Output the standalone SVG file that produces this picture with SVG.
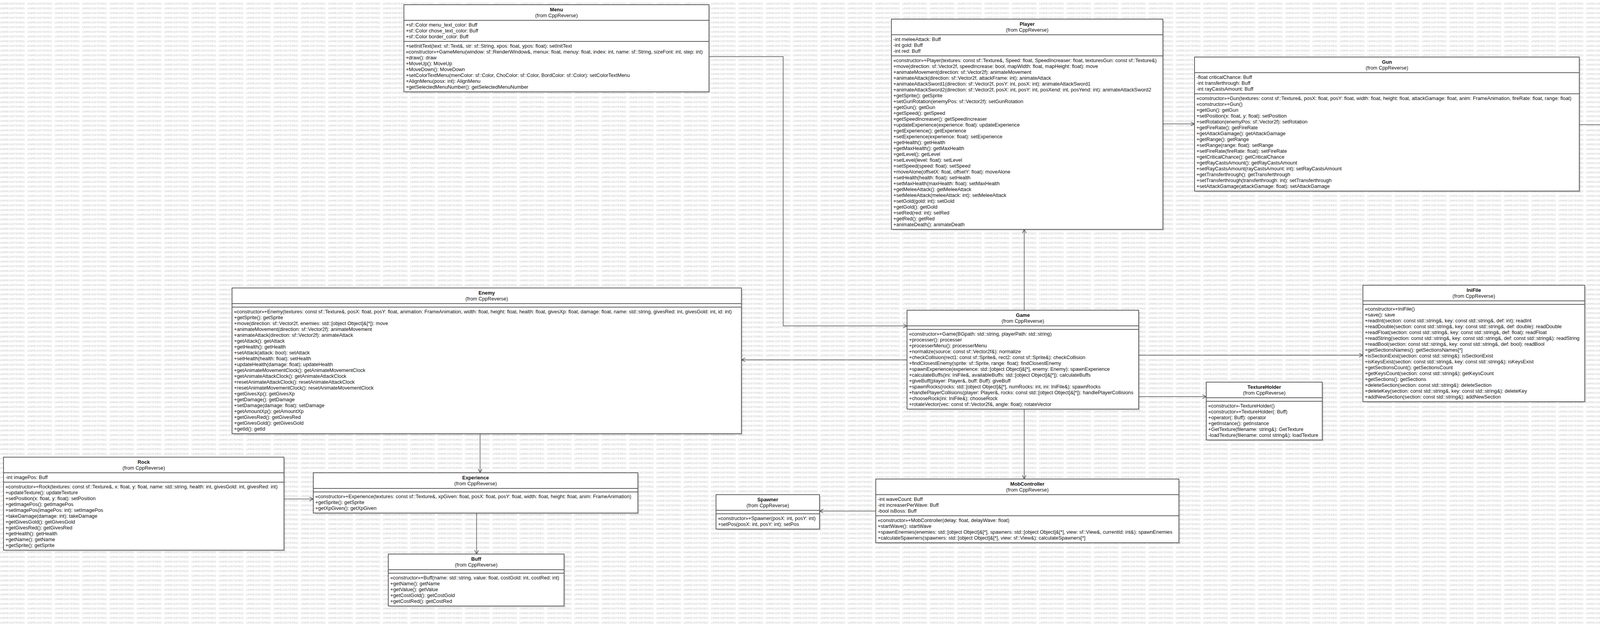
<svg xmlns="http://www.w3.org/2000/svg" width="5394" height="1597" viewBox="0 0 5394 1597">
<style>
.bg{fill:#fff}
.wm{font-family:"Liberation Sans",Arial,sans-serif;font-size:8px;fill:#c6c6c6}
.sh{fill:#000;opacity:.1}
.box{fill:#fff;stroke:#5f5f5f;stroke-width:2}
.sep{stroke:#5f5f5f;stroke-width:2}
.t{font-family:"Liberation Sans",Arial,sans-serif;font-size:12.8px;fill:#111}
.n{font-weight:bold;text-anchor:middle}
.f{text-anchor:middle}
.conn{fill:none;stroke:#555;stroke-width:1.5}
</style>
<defs>
<pattern id="wmp" width="70" height="12" patternUnits="userSpaceOnUse"><text class="wm" x="0" y="11.5">UNREGISTERED</text></pattern>
<marker id="arr" markerUnits="userSpaceOnUse" markerWidth="12" markerHeight="12" refX="10" refY="5" orient="auto"><path d="M0,0 L10,5 L0,10" fill="none" stroke="#555" stroke-width="1.5"/></marker>
</defs>
<rect class="bg" width="5394" height="1597"/>
<rect width="5394" height="1597" fill="url(#wmp)"/>

<g id="connectors">
<path class="conn" d="M1815,145 H2005 V834 H2322" marker-end="url(#arr)"/>
<path class="conn" d="M2622,794 V587" marker-end="url(#arr)"/>
<path class="conn" d="M2977,317 H3058" marker-end="url(#arr)"/>
<path class="conn" d="M4043,319 H4178" marker-end="url(#arr)"/>
<path class="conn" d="M2915,909 H3489" marker-end="url(#arr)"/>
<path class="conn" d="M2915,1015 H3088" marker-end="url(#arr)"/>
<path class="conn" d="M2322,921 H1898" marker-end="url(#arr)"/>
<path class="conn" d="M2622,1047 V1226" marker-end="url(#arr)"/>
<path class="conn" d="M2242,1308 H2098" marker-end="url(#arr)"/>
<path class="conn" d="M1229,1110 V1210" marker-end="url(#arr)"/>
<path class="conn" d="M727,1277 H802" marker-end="url(#arr)"/>
<path class="conn" d="M1220,1313 V1418" marker-end="url(#arr)"/>
</g>

<g id="Menu">
<rect class="sh" x="1038" y="16" width="781" height="223"/>
<rect class="box" x="1034" y="12" width="781" height="223"/>
<line class="sep" x1="1034" y1="52" x2="1815" y2="52"/>
<line class="sep" x1="1034" y1="106" x2="1815" y2="106"/>
<text class="t n" x="1424.5" y="29">Menu</text>
<text class="t f" x="1424.5" y="44">(from CppReverse)</text>
<text class="t">
<tspan x="1039" y="68">+sf::Color menu_text_color: Buff</tspan>
<tspan x="1039" y="83">+sf::Color chose_text_color: Buff</tspan>
<tspan x="1039" y="98">+sf::Color border_color: Buff</tspan>
<tspan x="1039" y="122">+setInitText(text: sf::Text&amp;, str: sf::String, xpos: float, ypos: float): setInitText</tspan>
<tspan x="1039" y="137">«constructor»+GameMenu(window: sf::RenderWindow&amp;, menux: float, menuy: float, index: int, name: sf::String, sizeFont: int, step: int)</tspan>
<tspan x="1039" y="152">+draw(): draw</tspan>
<tspan x="1039" y="167">+MoveUp(): MoveUp</tspan>
<tspan x="1039" y="182">+MoveDown(): MoveDown</tspan>
<tspan x="1039" y="197">+setColorTextMenu(menColor: sf::Color, ChoColor: sf::Color, BordColor: sf::Color): setColorTextMenu</tspan>
<tspan x="1039" y="212">+AlignMenu(posx: int): AlignMenu</tspan>
<tspan x="1039" y="227">+getSelectedMenuNumber(): getSelectedMenuNumber</tspan>
</text>
</g>

<g id="Player">
<rect class="sh" x="2286" y="53" width="695" height="538"/>
<rect class="box" x="2282" y="49" width="695" height="538"/>
<line class="sep" x1="2282" y1="89" x2="2977" y2="89"/>
<line class="sep" x1="2282" y1="143" x2="2977" y2="143"/>
<text class="t n" x="2629.5" y="66">Player</text>
<text class="t f" x="2629.5" y="81">(from CppReverse)</text>
<text class="t">
<tspan x="2287" y="105">-int meleeAttack: Buff</tspan>
<tspan x="2287" y="120">-int gold: Buff</tspan>
<tspan x="2287" y="135">-int red: Buff</tspan>
<tspan x="2287" y="159">«constructor»+Player(textures: const sf::Texture&amp;, Speed: float, SpeedIncreaser: float, texturesGun: const sf::Texture&amp;)</tspan>
<tspan x="2287" y="174">+move(direction: sf::Vector2f, speedIncrease: bool, mapWidth: float, mapHeight: float): move</tspan>
<tspan x="2287" y="189">+animateMovement(direction: sf::Vector2f): animateMovement</tspan>
<tspan x="2287" y="204">+animateAttack(direction: sf::Vector2f, attackFrame: int): animateAttack</tspan>
<tspan x="2287" y="219">+animateAttackSword1(direction: sf::Vector2f, posY: int, posX: int): animateAttackSword1</tspan>
<tspan x="2287" y="234">+animateAttackSword2(direction: sf::Vector2f, posX: int, posY: int, posXend: int, posYend: int): animateAttackSword2</tspan>
<tspan x="2287" y="249">+getSprite(): getSprite</tspan>
<tspan x="2287" y="264">+setGunRotation(enemyPos: sf::Vector2f): setGunRotation</tspan>
<tspan x="2287" y="279">+getGun(): getGun</tspan>
<tspan x="2287" y="294">+getSpeed(): getSpeed</tspan>
<tspan x="2287" y="309">+getSpeedIncreaser(): getSpeedIncreaser</tspan>
<tspan x="2287" y="324">+updateExperience(experience: float): updateExperience</tspan>
<tspan x="2287" y="339">+getExperience(): getExperience</tspan>
<tspan x="2287" y="354">+setExperience(experience: float): setExperience</tspan>
<tspan x="2287" y="369">+getHealth(): getHealth</tspan>
<tspan x="2287" y="384">+getMaxHealth(): getMaxHealth</tspan>
<tspan x="2287" y="399">+getLevel(): getLevel</tspan>
<tspan x="2287" y="414">+setLevel(level: float): setLevel</tspan>
<tspan x="2287" y="429">+setSpeed(speed: float): setSpeed</tspan>
<tspan x="2287" y="444">+moveAlone(offsetX: float, offsetY: float): moveAlone</tspan>
<tspan x="2287" y="459">+setHealth(health: float): setHealth</tspan>
<tspan x="2287" y="474">+setMaxHealth(maxHealth: float): setMaxHealth</tspan>
<tspan x="2287" y="489">+getMeleeAttack(): getMeleeAttack</tspan>
<tspan x="2287" y="504">+setMeleeAttack(meleeAttack: int): setMeleeAttack</tspan>
<tspan x="2287" y="519">+setGold(gold: int): setGold</tspan>
<tspan x="2287" y="534">+getGold(): getGold</tspan>
<tspan x="2287" y="549">+setRed(red: int): setRed</tspan>
<tspan x="2287" y="564">+getRed(): getRed</tspan>
<tspan x="2287" y="579">+animateDeath(): animateDeath</tspan>
</text>
</g>

<g id="Gun">
<rect class="sh" x="3062" y="150" width="985" height="343"/>
<rect class="box" x="3058" y="146" width="985" height="343"/>
<line class="sep" x1="3058" y1="186" x2="4043" y2="186"/>
<line class="sep" x1="3058" y1="240" x2="4043" y2="240"/>
<text class="t n" x="3550.5" y="163">Gun</text>
<text class="t f" x="3550.5" y="178">(from CppReverse)</text>
<text class="t">
<tspan x="3063" y="202">-float criticalChance: Buff</tspan>
<tspan x="3063" y="217">-int transferthrough: Buff</tspan>
<tspan x="3063" y="232">-int rayCastsAmount: Buff</tspan>
<tspan x="3063" y="256">«constructor»+Gun(textures: const sf::Texture&amp;, posX: float, posY: float, width: float, height: float, attackGamage: float, anim: FrameAnimation, fireRate: float, range: float)</tspan>
<tspan x="3063" y="271">«constructor»+Gun()</tspan>
<tspan x="3063" y="286">+getGun(): getGun</tspan>
<tspan x="3063" y="301">+setPosition(x: float, y: float): setPosition</tspan>
<tspan x="3063" y="316">+setRotation(enemyPos: sf::Vector2f): setRotation</tspan>
<tspan x="3063" y="331">+getFireRate(): getFireRate</tspan>
<tspan x="3063" y="346">+getAttackGamage(): getAttackGamage</tspan>
<tspan x="3063" y="361">+getRange(): getRange</tspan>
<tspan x="3063" y="376">+setRange(range: float): setRange</tspan>
<tspan x="3063" y="391">+setFireRate(fireRate: float): setFireRate</tspan>
<tspan x="3063" y="406">+getCriticalChance(): getCriticalChance</tspan>
<tspan x="3063" y="421">+getRayCastsAmount(): getRayCastsAmount</tspan>
<tspan x="3063" y="436">+setRayCastsAmount(rayCastsAmount: int): setRayCastsAmount</tspan>
<tspan x="3063" y="451">+getTransferthrough(): getTransferthrough</tspan>
<tspan x="3063" y="466">+setTransferthrough(transferthrough: int): setTransferthrough</tspan>
<tspan x="3063" y="481">+setAttackGamage(attackGamage: float): setAttackGamage</tspan>
</text>
</g>

<g id="Bullet">
<rect class="sh" x="4182" y="222" width="1163" height="208"/>
<rect class="box" x="4178" y="218" width="1163" height="208"/>
<line class="sep" x1="4178" y1="258" x2="5341" y2="258"/>
<line class="sep" x1="4178" y1="282" x2="5341" y2="282"/>
<text class="t n" x="4759.5" y="235">Bullet</text>
<text class="t f" x="4759.5" y="250">(from CppReverse)</text>
<text class="t">
<tspan x="4183" y="274">-int lastTransferredId: Buff</tspan>
<tspan x="4183" y="298">«constructor»+Bullet(textures: const sf::Texture&amp;, posX: float, posY: float, width: float, height: float, attackGamage: float, anim: FrameAnimation, direction: sf::Vector2f, color: sf::Color, transferThrough: int)</tspan>
<tspan x="4183" y="313">«constructor»+Bullet()</tspan>
<tspan x="4183" y="328">+animateMovement(): animateMovement</tspan>
<tspan x="4183" y="343">+getSprite(): getSprite</tspan>
<tspan x="4183" y="358">+move(seconds: float): move</tspan>
<tspan x="4183" y="373">+getAttackGamage(): getAttackGamage</tspan>
<tspan x="4183" y="388">+getClock(): getClock</tspan>
<tspan x="4183" y="403">+getTransferThrough(): getTransferThrough</tspan>
<tspan x="4183" y="418">+setTransferThrough(id: int): setTransferThrough</tspan>
</text>
</g>

<g id="Enemy">
<rect class="sh" x="598" y="741" width="1304" height="373"/>
<rect class="box" x="594" y="737" width="1304" height="373"/>
<line class="sep" x1="594" y1="777" x2="1898" y2="777"/>
<line class="sep" x1="594" y1="786" x2="1898" y2="786"/>
<text class="t n" x="1246" y="754">Enemy</text>
<text class="t f" x="1246" y="769">(from CppReverse)</text>
<text class="t">
<tspan x="599" y="802">«constructor»+Enemy(textures: const sf::Texture&amp;, posX: float, posY: float, animation: FrameAnimation, width: float, height: float, health: float, givesXp: float, damage: float, name: std::string, givesRed: int, givesGold: int, id: int)</tspan>
<tspan x="599" y="817">+getSprite(): getSprite</tspan>
<tspan x="599" y="832">+move(direction: sf::Vector2f, enemies: std::[object Object]&amp;[*]): move</tspan>
<tspan x="599" y="847">+animateMovement(direction: sf::Vector2f): animateMovement</tspan>
<tspan x="599" y="862">+animateAttack(direction: sf::Vector2f): animateAttack</tspan>
<tspan x="599" y="877">+getAttack(): getAttack</tspan>
<tspan x="599" y="892">+getHealth(): getHealth</tspan>
<tspan x="599" y="907">+setAttack(attack: bool): setAttack</tspan>
<tspan x="599" y="922">+setHealth(health: float): setHealth</tspan>
<tspan x="599" y="937">+updateHealth(damage: float): updateHealth</tspan>
<tspan x="599" y="952">+getAnimateMovementClock(): getAnimateMovementClock</tspan>
<tspan x="599" y="967">+getAnimateAttackClock(): getAnimateAttackClock</tspan>
<tspan x="599" y="982">+resetAnimateAttackClock(): resetAnimateAttackClock</tspan>
<tspan x="599" y="997">+resetAnimateMovementClock(): resetAnimateMovementClock</tspan>
<tspan x="599" y="1012">+getGivesXp(): getGivesXp</tspan>
<tspan x="599" y="1027">+getDamage(): getDamage</tspan>
<tspan x="599" y="1042">+setDamage(damage: float): setDamage</tspan>
<tspan x="599" y="1057">+getAmountXp(): getAmountXp</tspan>
<tspan x="599" y="1072">+getGivesRed(): getGivesRed</tspan>
<tspan x="599" y="1087">+getGivesGold(): getGivesGold</tspan>
<tspan x="599" y="1102">+getId(): getId</tspan>
</text>
</g>

<g id="Game">
<rect class="sh" x="2326" y="798" width="593" height="253"/>
<rect class="box" x="2322" y="794" width="593" height="253"/>
<line class="sep" x1="2322" y1="834" x2="2915" y2="834"/>
<line class="sep" x1="2322" y1="843" x2="2915" y2="843"/>
<text class="t n" x="2618.5" y="811">Game</text>
<text class="t f" x="2618.5" y="826">(from CppReverse)</text>
<text class="t">
<tspan x="2327" y="859">«constructor»+Game(BGpath: std::string, playerPath: std::string)</tspan>
<tspan x="2327" y="874">+processer(): processer</tspan>
<tspan x="2327" y="889">+processerMenu(): processerMenu</tspan>
<tspan x="2327" y="904">+normalize(source: const sf::Vector2f&amp;): normalize</tspan>
<tspan x="2327" y="919">+checkCollision(rect1: const sf::Sprite&amp;, rect2: const sf::Sprite&amp;): checkCollision</tspan>
<tspan x="2327" y="934">+findClosestEnemy(sprite: sf::Sprite, range: float): findClosestEnemy</tspan>
<tspan x="2327" y="949">+spawnExperience(experience: std::[object Object]&amp;[*], enemy: Enemy): spawnExperience</tspan>
<tspan x="2327" y="964">+calculateBuffs(ini: IniFile&amp;, availableBuffs: std::[object Object]&amp;[*]): calculateBuffs</tspan>
<tspan x="2327" y="979">+giveBuff(player: Player&amp;, buff: Buff): giveBuff</tspan>
<tspan x="2327" y="994">+spawnRocks(rocks: std::[object Object]&amp;[*], numRocks: int, ini: IniFile&amp;): spawnRocks</tspan>
<tspan x="2327" y="1009">+handlePlayerCollisions(player: Player&amp;, rocks: const std::[object Object]&amp;[*]): handlePlayerCollisions</tspan>
<tspan x="2327" y="1024">+chooseRock(ini: IniFile&amp;): chooseRock</tspan>
<tspan x="2327" y="1039">+rotateVector(vec: const sf::Vector2f&amp;, angle: float): rotateVector</tspan>
</text>
</g>

<g id="IniFile">
<rect class="sh" x="3493" y="734" width="568" height="298"/>
<rect class="box" x="3489" y="730" width="568" height="298"/>
<line class="sep" x1="3489" y1="770" x2="4057" y2="770"/>
<line class="sep" x1="3489" y1="779" x2="4057" y2="779"/>
<text class="t n" x="3773" y="747">IniFile</text>
<text class="t f" x="3773" y="762">(from CppReverse)</text>
<text class="t">
<tspan x="3494" y="795">«constructor»+IniFile()</tspan>
<tspan x="3494" y="810">+save(): save</tspan>
<tspan x="3494" y="825">+readInt(section: const std::string&amp;, key: const std::string&amp;, def: int): readInt</tspan>
<tspan x="3494" y="840">+readDouble(section: const std::string&amp;, key: const std::string&amp;, def: double): readDouble</tspan>
<tspan x="3494" y="855">+readFloat(section: const std::string&amp;, key: const std::string&amp;, def: float): readFloat</tspan>
<tspan x="3494" y="870">+readString(section: const std::string&amp;, key: const std::string&amp;, def: const std::string&amp;): readString</tspan>
<tspan x="3494" y="885">+readBool(section: const std::string&amp;, key: const std::string&amp;, def: bool): readBool</tspan>
<tspan x="3494" y="900">+getSectionsNames(): getSectionsNames[*]</tspan>
<tspan x="3494" y="915">+isSectionExist(section: const std::string&amp;): isSectionExist</tspan>
<tspan x="3494" y="930">+isKeysExist(section: const std::string&amp;, key: const std::string&amp;): isKeysExist</tspan>
<tspan x="3494" y="945">+getSectionsCount(): getSectionsCount</tspan>
<tspan x="3494" y="960">+getKeysCount(section: const std::string&amp;): getKeysCount</tspan>
<tspan x="3494" y="975">+getSections(): getSections</tspan>
<tspan x="3494" y="990">+deleteSection(section: const std::string&amp;): deleteSection</tspan>
<tspan x="3494" y="1005">+deleteKey(section: const std::string&amp;, key: const std::string&amp;): deleteKey</tspan>
<tspan x="3494" y="1020">+addNewSection(section: const std::string&amp;): addNewSection</tspan>
</text>
</g>

<g id="TextureHolder">
<rect class="sh" x="3092" y="982" width="297" height="148"/>
<rect class="box" x="3088" y="978" width="297" height="148"/>
<line class="sep" x1="3088" y1="1018" x2="3385" y2="1018"/>
<line class="sep" x1="3088" y1="1027" x2="3385" y2="1027"/>
<text class="t n" x="3236.5" y="995">TextureHolder</text>
<text class="t f" x="3236.5" y="1010">(from CppReverse)</text>
<text class="t">
<tspan x="3093" y="1043">«constructor»-TextureHolder()</tspan>
<tspan x="3093" y="1058">«constructor»+TextureHolder(: Buff)</tspan>
<tspan x="3093" y="1073">+operator(: Buff): operator</tspan>
<tspan x="3093" y="1088">+getInstance(): getInstance</tspan>
<tspan x="3093" y="1103">+GetTexture(filename: string&amp;): GetTexture</tspan>
<tspan x="3093" y="1118">-loadTexture(filename: const string&amp;): loadTexture</tspan>
</text>
</g>

<g id="Rock">
<rect class="sh" x="13" y="1174" width="718" height="238"/>
<rect class="box" x="9" y="1170" width="718" height="238"/>
<line class="sep" x1="9" y1="1210" x2="727" y2="1210"/>
<line class="sep" x1="9" y1="1234" x2="727" y2="1234"/>
<text class="t n" x="368" y="1187">Rock</text>
<text class="t f" x="368" y="1202">(from CppReverse)</text>
<text class="t">
<tspan x="14" y="1226">-int imagePos: Buff</tspan>
<tspan x="14" y="1250">«constructor»+Rock(textures: const sf::Texture&amp;, x: float, y: float, name: std::string, health: int, givesGold: int, givesRed: int)</tspan>
<tspan x="14" y="1265">+updateTexture(): updateTexture</tspan>
<tspan x="14" y="1280">+setPosition(x: float, y: float): setPosition</tspan>
<tspan x="14" y="1295">+getImagePos(): getImagePos</tspan>
<tspan x="14" y="1310">+setImagePos(imagePos: int): setImagePos</tspan>
<tspan x="14" y="1325">+takeDamage(damage: int): takeDamage</tspan>
<tspan x="14" y="1340">+getGivesGold(): getGivesGold</tspan>
<tspan x="14" y="1355">+getGivesRed(): getGivesRed</tspan>
<tspan x="14" y="1370">+getHealth(): getHealth</tspan>
<tspan x="14" y="1385">+getName(): getName</tspan>
<tspan x="14" y="1400">+getSprite(): getSprite</tspan>
</text>
</g>

<g id="Experience">
<rect class="sh" x="806" y="1214" width="831" height="103"/>
<rect class="box" x="802" y="1210" width="831" height="103"/>
<line class="sep" x1="802" y1="1250" x2="1633" y2="1250"/>
<line class="sep" x1="802" y1="1259" x2="1633" y2="1259"/>
<text class="t n" x="1217.5" y="1227">Experience</text>
<text class="t f" x="1217.5" y="1242">(from CppReverse)</text>
<text class="t">
<tspan x="807" y="1275">«constructor»+Experience(textures: const sf::Texture&amp;, xpGiven: float, posX: float, posY: float, width: float, height: float, anim: FrameAnimation)</tspan>
<tspan x="807" y="1290">+getSprite(): getSprite</tspan>
<tspan x="807" y="1305">+getXpGiven(): getXpGiven</tspan>
</text>
</g>

<g id="Buff">
<rect class="sh" x="998" y="1422" width="450" height="133"/>
<rect class="box" x="994" y="1418" width="450" height="133"/>
<line class="sep" x1="994" y1="1458" x2="1444" y2="1458"/>
<line class="sep" x1="994" y1="1467" x2="1444" y2="1467"/>
<text class="t n" x="1219" y="1435">Buff</text>
<text class="t f" x="1219" y="1450">(from CppReverse)</text>
<text class="t">
<tspan x="999" y="1483">«constructor»+Buff(name: std::string, value: float, costGold: int, costRed: int)</tspan>
<tspan x="999" y="1498">+getName(): getName</tspan>
<tspan x="999" y="1513">+getValue(): getValue</tspan>
<tspan x="999" y="1528">+getCostGold(): getCostGold</tspan>
<tspan x="999" y="1543">+getCostRed(): getCostRed</tspan>
</text>
</g>

<g id="Spawner">
<rect class="sh" x="1837" y="1270" width="265" height="88"/>
<rect class="box" x="1833" y="1266" width="265" height="88"/>
<line class="sep" x1="1833" y1="1306" x2="2098" y2="1306"/>
<line class="sep" x1="1833" y1="1315" x2="2098" y2="1315"/>
<text class="t n" x="1965.5" y="1283">Spawner</text>
<text class="t f" x="1965.5" y="1298">(from CppReverse)</text>
<text class="t">
<tspan x="1838" y="1331">«constructor»+Spawner(posX: int, posY: int)</tspan>
<tspan x="1838" y="1346">+setPos(posX: int, posY: int): setPos</tspan>
</text>
</g>

<g id="MobController">
<rect class="sh" x="2246" y="1230" width="776" height="163"/>
<rect class="box" x="2242" y="1226" width="776" height="163"/>
<line class="sep" x1="2242" y1="1266" x2="3018" y2="1266"/>
<line class="sep" x1="2242" y1="1320" x2="3018" y2="1320"/>
<text class="t n" x="2630" y="1243">MobController</text>
<text class="t f" x="2630" y="1258">(from CppReverse)</text>
<text class="t">
<tspan x="2247" y="1282">-int waveCount: Buff</tspan>
<tspan x="2247" y="1297">-int increaserPerWave: Buff</tspan>
<tspan x="2247" y="1312">-bool isBoss: Buff</tspan>
<tspan x="2247" y="1336">«constructor»+MobController(delay: float, delayWave: float)</tspan>
<tspan x="2247" y="1351">+startWave(): startWave</tspan>
<tspan x="2247" y="1366">+spawnEnemies(enemies: std::[object Object]&amp;[*], spawners: std::[object Object]&amp;[*], view: sf::View&amp;, currentId: int&amp;): spawnEnemies</tspan>
<tspan x="2247" y="1381">+calculateSpawners(spawners: std::[object Object]&amp;[*], view: sf::View&amp;): calculateSpawners[*]</tspan>
</text>
</g>
</svg>
